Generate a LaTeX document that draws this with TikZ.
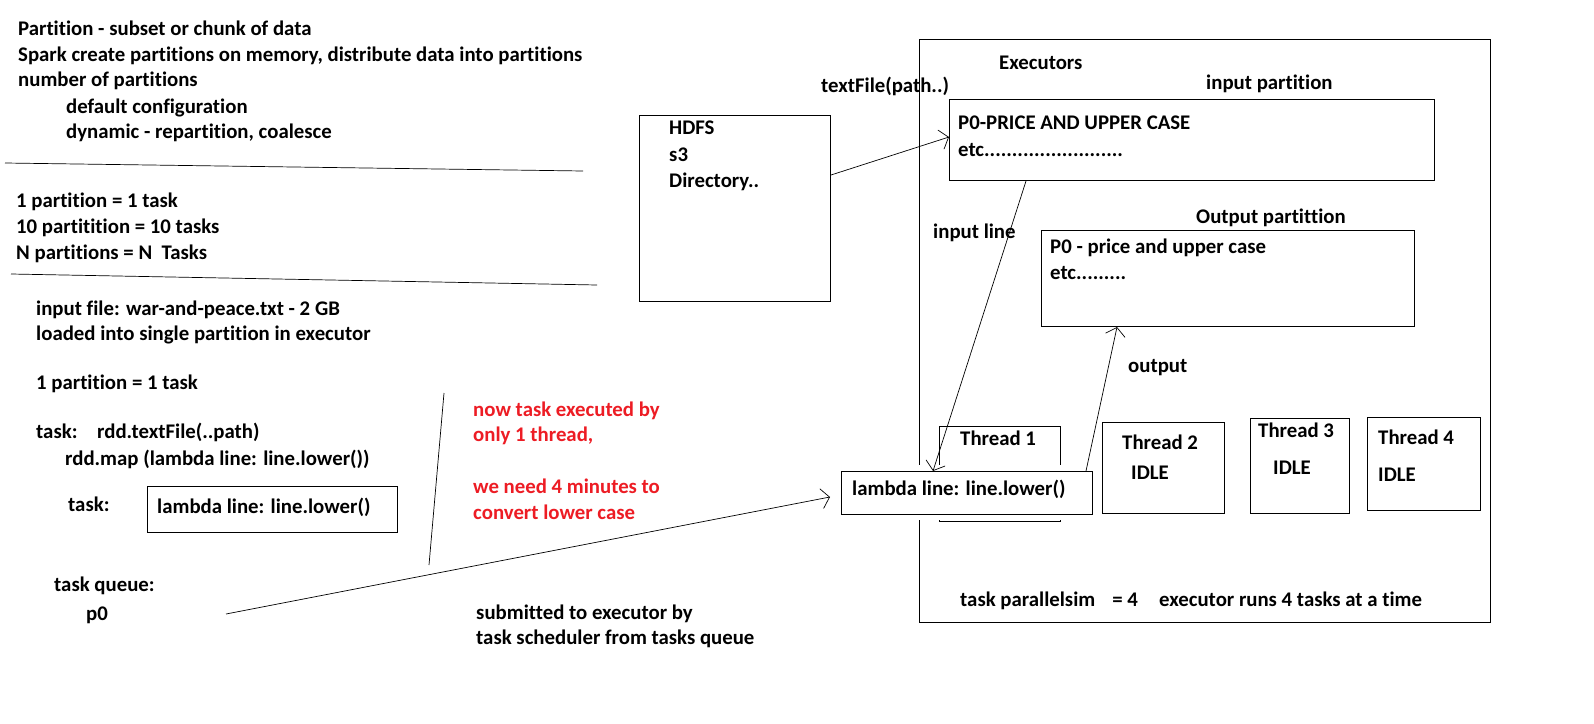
\documentclass[tikz,border=0pt]{standalone}
\usepackage{fontspec}
\setmainfont{Carlito}[Ligatures={NoCommon}]
\usetikzlibrary{arrows.meta}
\definecolor{paintred}{RGB}{237,28,36}
\begin{document}
\begin{tikzpicture}[x=1pt,y=-1pt,
  txt/.style={anchor=base west, inner sep=0pt, font=\fontsize{20.8}{24}\selectfont\bfseries},
  redtxt/.style={txt, text=paintred},
  box/.style={draw, line width=1pt, inner sep=0pt, anchor=north west},
  conn/.style={line width=0.7pt},
  arr/.style={conn, -{Straight Barb[length=8pt,width=20pt]}}
]
\useasboundingbox (0,0) rectangle (1594,723);
\fill[white] (0,0) rectangle (1594,723);
% left column
\node[txt] (t1) at (18,35) {Partition - subset or chunk of data};
\node[txt] (t2) at (18,61) {Spark create partitions on memory, distribute data into partitions};
\node[txt] (t3) at (18,86) {number of partitions};
\node[txt] (t4) at (66,113) {default configuration};
\node[txt] (t5) at (66,138) {dynamic - repartition, coalesce};
\draw[conn] (5,163) -- (583,171);
\node[txt] (t6) at (16,207) {1 partition = 1 task};
\node[txt] (t7) at (16,233) {10 partitition = 10 tasks};
\node[txt] (t8) at (16,259) {N partitions = N\ \ Tasks};
\draw[conn] (11,274) -- (597,285);
\node[txt] (t9) at (36,315) {input file: war-and-peace.txt - 2 GB};
\node[txt] (t10) at (36,340) {loaded into single partition in executor};
\node[txt] (t11) at (36,389) {1 partition = 1 task};
\node[txt] (t12) at (36,438) {task:};
\node[txt] (t13) at (97,438) {rdd.textFile(..path)};
\node[txt] (t14) at (65,465) {rdd.map (lambda line: line.lower())};
\node[txt] (t15) at (68,511) {task:};
\node[box, minimum width=250pt, minimum height=46pt] (lam0) at (147,486) {};
\node[txt] (lam0t) at (157,513) {lambda line: line.lower()};
\node[txt] (tq) at (54,591) {task queue:};
\node[txt] (p0) at (86,620) {p0};
\coordinate (qstart) at (226,614);
\draw[conn] (444,393) -- (429,565);
\node[redtxt] (r1) at (473,416) {now task executed by};
\node[redtxt] (r2) at (473,441) {only 1 thread,};
\node[redtxt] (r3) at (473,493) {we need 4 minutes to};
\node[redtxt] (r4) at (473,519) {convert lower case};
\node[txt] (s1) at (476,619) {submitted to executor by};
\node[txt] (s2) at (476,644) {task scheduler from tasks queue};
% HDFS
\node[box, minimum width=191pt, minimum height=186pt] (hdfs) at (639,115) {};
\node[txt] (h1) at (669,134) {HDFS};
\node[txt] (h2) at (669,161) {s3};
\node[txt] (h3) at (669,187) {Directory..};
% executor
\node[box, minimum width=571pt, minimum height=583pt] (exec) at (919,39) {};
\node[txt] (tf) at (821,92) {textFile(path..)};
\node[txt] (ex) at (999,69) {Executors};
\node[txt] (ipl) at (1206,89) {input partition};
\node[box, minimum width=485pt, minimum height=81pt] (inp) at (949,99) {};
\node[txt] (i1) at (958,129) {P0-PRICE AND UPPER CASE};
\node[txt] (i2) at (958,156) {etc.........................};
\node[txt] (il) at (933,238) {input line};
\node[txt] (opl) at (1196,223) {Output partittion};
\node[box, minimum width=373pt, minimum height=96pt] (outp) at (1041,230) {};
\node[txt] (o1) at (1050,253) {P0 - price and upper case};
\node[txt] (o2) at (1050,279) {etc.........};
\node[txt] (ol) at (1128,372) {output};
% threads
\node[box, minimum width=121pt, minimum height=95pt] (th1) at (939,426) {};
\node[txt] (th1t) at (960,445) {Thread 1};
\node[box, minimum width=122pt, minimum height=91pt] (th2) at (1102,422) {};
\node[txt] (th2t) at (1122,449) {Thread 2};
\node[txt] (th2i) at (1131,479) {IDLE};
\node[box, minimum width=99pt, minimum height=95pt] (th3) at (1250,418) {};
\node[txt] (th3t) at (1258,437) {Thread 3};
\node[txt] (th3i) at (1273,474) {IDLE};
\node[box, minimum width=113pt, minimum height=93pt] (th4) at (1367,417) {};
\node[txt] (th4t) at (1378,444) {Thread 4};
\node[txt] (th4i) at (1378,481) {IDLE};
% lambda task in executor (covers what lies behind it)
\fill[white] (834,465) rectangle (1099,520);
\node[box, minimum width=251pt, minimum height=43pt] (lam) at (841,471) {};
\node[txt] (lamt) at (852,495) {lambda line: line.lower()};
\node[txt] (tp) at (960,606) {task parallelsim\hspace{17pt}= 4};
\node[txt] (er) at (1159,606) {executor runs 4 tasks at a time};
% connectors
\draw[arr] (hdfs.east |- 0,175) -- (inp.west |- 0,137);
\draw[arr] (qstart) -- ([xshift=-11pt]lam.west |- 0,497);
\draw[arr] (inp.south -| 1026,0) -- (lam.north -| 933,0);
\draw[arr] (lam.north -| 1086,0) -- (outp.south -| 1117,0);
\end{tikzpicture}
\end{document}
